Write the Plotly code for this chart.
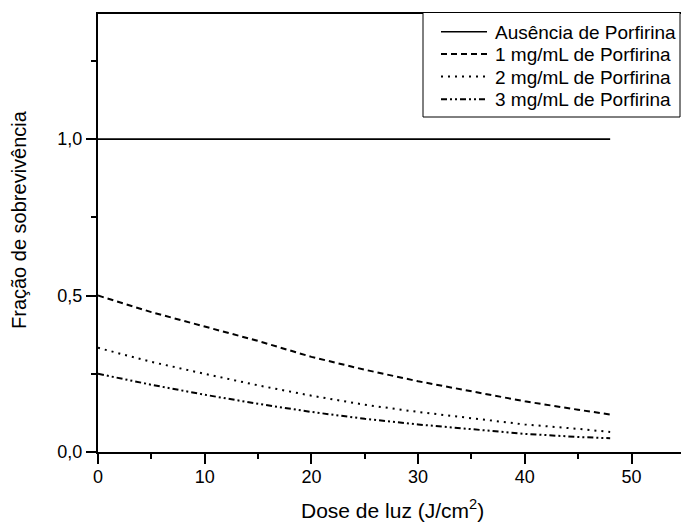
import plotly.graph_objects as go

# Light dose (J/cm^2)
dose = [0, 5, 10, 15, 20, 25, 30, 35, 40, 45, 48]

# Survival fraction per porphyrin concentration
sem_porfirina = [1.0, 1.0, 1.0, 1.0, 1.0, 1.0, 1.0, 1.0, 1.0, 1.0, 1.0]
porfirina_1 = [0.500, 0.447, 0.401, 0.355, 0.304, 0.263, 0.226, 0.194, 0.162, 0.135, 0.120]
porfirina_2 = [0.333, 0.288, 0.250, 0.213, 0.180, 0.151, 0.128, 0.107, 0.088, 0.074, 0.064]
porfirina_3 = [0.250, 0.215, 0.183, 0.154, 0.128, 0.106, 0.088, 0.073, 0.058, 0.048, 0.044]

series_names = [
    "Ausência de Porfirina",
    "1 mg/mL de Porfirina",
    "2 mg/mL de Porfirina",
    "3 mg/mL de Porfirina",
]
series_values = [sem_porfirina, porfirina_1, porfirina_2, porfirina_3]
series_dash = ["solid", "6px,4px", "2px,5px", "6px,3px,2px,3px,2px,3px"]
series_width = [1.6, 2.0, 2.0, 2.0]

x_ticks = [0, 10, 20, 30, 40, 50]
y_ticks = [0.0, 0.5, 1.0]

FONT = "Liberation Sans, Arial, sans-serif"
W, H = 681, 523
L, R, T, B = 98, 0, 14, 71
PW, PH = W - L - R, H - T - B


def px_x(px):
    """Pixel column -> paper x."""
    return (px - L) / PW


def px_y(py):
    """Pixel row (from top) -> paper y."""
    return (H - B - py) / PH


fig = go.Figure()
for name, vals, dash, lw in zip(series_names, series_values, series_dash, series_width):
    fig.add_trace(go.Scatter(
        x=dose, y=vals, name=name, mode="lines", showlegend=False,
        line=dict(color="black", width=lw, dash=dash),
    ))

axis_common = dict(
    showgrid=False, zeroline=False, showline=True, linecolor="black", linewidth=2,
    ticks="outside", ticklen=10, tickwidth=2, tickcolor="black",
    tickfont=dict(family=FONT, size=18, color="black"),
)

fig.update_xaxes(
    range=[0, PW / 10.67], tickvals=x_ticks, mirror=True, ticklabelstandoff=-3,
    minor=dict(dtick=5, tick0=0, ticks="outside", ticklen=5, tickwidth=2, tickcolor="black"),
    **axis_common,
)
fig.update_yaxes(
    range=[0, 1.4], tickvals=y_ticks, tickformat=".1f",
    minor=dict(dtick=0.25, tick0=0, ticks="outside", ticklen=5, tickwidth=2, tickcolor="black"),
    **axis_common,
)

# Legend box drawn as a framed panel in the upper right corner
shapes = [dict(
    type="rect", xref="paper", yref="paper", layer="above",
    x0=px_x(423), x1=px_x(680), y0=px_y(117), y1=px_y(12.5),
    fillcolor="white", line=dict(color="black", width=1),
)]
annotations = []
legend_rows = [31.7, 54.0, 76.5, 99.3]
for name, dash, lw, row in zip(series_names, series_dash, series_width, legend_rows):
    shapes.append(dict(
        type="line", xref="paper", yref="paper", layer="above",
        x0=px_x(441), x1=px_x(487), y0=px_y(row), y1=px_y(row),
        line=dict(color="black", width=lw, dash=dash),
    ))
    annotations.append(dict(
        text=name, xref="paper", yref="paper", x=px_x(493), y=px_y(row + 0.5),
        showarrow=False, xanchor="left", yanchor="middle",
        font=dict(family=FONT, size=19, color="black"),
    ))

annotations += [
    dict(text="Dose de luz (J/cm<sup>2</sup>)", xref="paper", yref="paper",
         x=px_x(392), y=px_y(509),
         showarrow=False, xanchor="center", yanchor="middle",
         font=dict(family=FONT, size=21, color="black")),
    dict(text="Fração de sobrevivência", xref="paper", yref="paper",
         x=px_x(19), y=px_y(220),
         showarrow=False, xanchor="center", yanchor="middle", textangle=-90,
         font=dict(family=FONT, size=20, color="black")),
]

fig.update_layout(
    width=W, height=H,
    margin=dict(l=L, r=R, t=T, b=B),
    plot_bgcolor="white", paper_bgcolor="white",
    separators=",.",
    showlegend=False,
    shapes=shapes,
    annotations=annotations,
)

fig.write_html("out.html")
